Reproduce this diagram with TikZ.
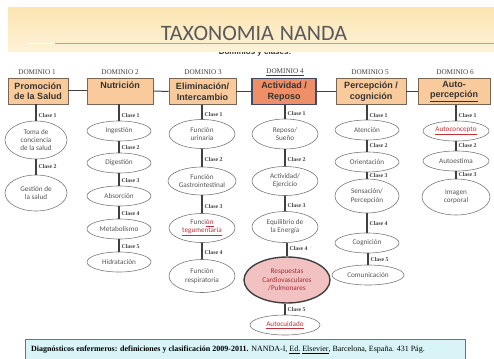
\documentclass[tikz,border=0pt]{standalone}
\usepackage{fontspec}
\setmainfont{Liberation Serif}
\newfontfamily\carl{Carlito}
\newfontfamily\arialf{Liberation Sans}
\usetikzlibrary{shapes.geometric}
\definecolor{bannerT}{HTML}{FBE5B2}
\definecolor{bannerB}{HTML}{FDF2D8}
\definecolor{goldline}{HTML}{C9A46A}
\definecolor{titlecol}{HTML}{5A5A5A}
\definecolor{boxfill}{HTML}{F9CB9C}
\definecolor{boxline}{HTML}{7A6650}
\definecolor{box4fill}{HTML}{EE8F67}
\definecolor{box4line}{HTML}{3E4A66}
\definecolor{ellline}{HTML}{7A7A7A}
\definecolor{elltext}{HTML}{555555}
\definecolor{pinkfill}{HTML}{F2C2C2}
\definecolor{pinktext}{HTML}{A0303A}
\definecolor{citefill}{HTML}{D8F4F6}
\definecolor{citeline}{HTML}{5E7C80}
\definecolor{redul}{HTML}{C0303A}
\tikzset{
  dom/.style={font=\fontsize{7.2}{8}\selectfont, text=black!75},
  dombox/.style={draw=boxline, line width=0.6pt, fill=boxfill, minimum width=61pt, minimum height=26pt, inner sep=1pt, align=center, font=\arialf\bfseries\fontsize{9}{10.5}\selectfont, text=black!80},
  ell/.style={ellipse, draw=ellline, line width=0.6pt, fill=white, inner xsep=-7pt, inner ysep=-4pt, align=center, font=\carl\fontsize{7.2}{8.2}\selectfont, text=elltext},
  conn/.style={draw=black!75, line width=1.3pt},
  hconn/.style={draw=black!75, line width=1pt},
  clase/.style={anchor=west, xshift=1.5pt, inner sep=0.5pt, font=\bfseries\fontsize{5.8}{6}\selectfont, text=black!75},
}
\newcommand{\rul}[1]{\textcolor{redul}{\underline{#1}}}
\begin{document}
\begin{tikzpicture}[x=1pt,y=-1pt]
\useasboundingbox (0,0) rectangle (494,358);
\fill[white] (0,0) rectangle (494,358);
% subtitle (partly hidden by the banner)
\node[font=\arialf\bfseries\fontsize{8}{9}\selectfont, text=black!80] (sub) at (255,52.5) {Dominios y clases:};
% banner
\shade[top color=bannerT, bottom color=bannerB] (8,8) rectangle (494,52);
\draw[goldline, line width=0.6pt] (55,43) -- (494,43);
\draw[white, line width=0.6pt] (28,43) -- (55,43);
\node[font=\carl\fontsize{22}{24}\selectfont, text=titlecol, inner sep=0pt] (title) at (254,33) {TAXONOMIA\hspace{6pt}NANDA};
% domain labels
\node[dom] (d1) at (37,72) {DOMINIO 1};
\node[dom] (d2) at (120,72) {DOMINIO 2};
\node[dom] (d3) at (203,72) {DOMINIO 3};
\node[dom] (d4) at (285,72) {\underline{DOMINIO 4}};
\node[dom] (d5) at (370,72) {DOMINIO 5};
\node[dom] (d6) at (455,72) {DOMINIO 6};
% domain boxes
\node[dombox, minimum width=60pt] (b1) at (38,91) {Promoción\\de la Salud};
\node[dombox, minimum width=66pt, text depth=12pt] (b2) at (120,91) {Nutrición};
\node[dombox, minimum width=67pt] (b3) at (202.5,91.5) {Eliminación/\\Intercambio};
\node[dombox, minimum width=64pt, fill=box4fill, draw=box4line, line width=1.4pt] (b4) at (284,91.5) {Actividad /\\Reposo};
\node[dombox, minimum width=70pt] (b5) at (371,91.5) {Percepción /\\cognición};
\node[dombox, minimum width=72pt] (b6) at (454,91.5) {Auto-\\\underline{percepción}};
\draw[hconn] (b1) -- (b2);
\draw[hconn] (b2) -- (b3);
\draw[hconn] (b3) -- (b4);
\draw[hconn] (b4) -- (b5);
\draw[hconn] (b5) -- (b6);
% column 1
\node[ell, minimum width=62pt, minimum height=38pt] (e11) at (36,140) {Toma de\\conciencia\\de la salud};
\node[ell, minimum width=62pt, minimum height=36pt] (e12) at (36,193) {Gestión de\\la salud};
% column 2
\node[ell, minimum width=64pt, minimum height=20pt] (e21) at (119,131) {Ingestión};
\node[ell, minimum width=64pt, minimum height=20pt] (e22) at (119,163) {Digestión};
\node[ell, minimum width=64pt, minimum height=20pt] (e23) at (119,196) {Absorción};
\node[ell, minimum width=64pt, minimum height=20pt] (e24) at (119,229) {Metabolismo};
\node[ell, minimum width=64pt, minimum height=20pt] (e25) at (119,262) {Hidratación};
% column 3
\node[ell, minimum width=66pt, minimum height=29pt] (e31) at (202,134) {Función\\urinaria};
\node[ell, minimum width=68pt, minimum height=28pt] (e32) at (202,181) {Función\\Gastrointestinal};
\node[ell, minimum width=66pt, minimum height=29pt] (e33) at (202,228) {Funci\rul{ón}\\\rul{tegumentaria}};
\node[ell, minimum width=66pt, minimum height=33pt] (e34) at (202,276) {Función\\respiratoria};
% column 4
\node[ell, minimum width=66pt, minimum height=30pt] (e41) at (285,134) {Reposo/\\Sueño};
\node[ell, minimum width=66pt, minimum height=29pt] (e42) at (285,181) {Actividad/\\Ejercicio};
\node[ell, minimum width=66pt, minimum height=31pt] (e43) at (285,227) {Equilibrio de\\la Energía};
\node[ell, minimum width=86pt, minimum height=46pt, fill=pinkfill, draw=black!75, line width=1.4pt, text=pinktext] (e44) at (287,280) {Respuestas\\Cardiovasculares\\/Pulmonares};
\node[ell, minimum width=70pt, minimum height=20pt] (e45) at (285,325) {\rul{Autocuidado}};
% column 5
\node[ell, minimum width=64pt, minimum height=20pt] (e51) at (367,130) {Atención};
\node[ell, minimum width=64pt, minimum height=20pt] (e52) at (367,162) {Orientación};
\node[ell, minimum width=64pt, minimum height=34pt] (e53) at (367,196) {Sensación/\\Percepción};
\node[ell, minimum width=64pt, minimum height=20pt] (e54) at (367,243) {Cognición};
\node[ell, minimum width=72pt, minimum height=20pt] (e55) at (368,275) {Comunicación};
% column 6
\node[ell, minimum width=66pt, minimum height=20pt] (e61) at (456,131) {\rul{Autoconcepto}};
\node[ell, minimum width=66pt, minimum height=20pt] (e62) at (456,161) {Autoestima};
\node[ell, minimum width=68pt, minimum height=36pt] (e63) at (456,197) {Imagen\\corporal};
% connectors with class labels
\draw[conn] (b1.south -| e11) -- (e11.north) node[clase, pos=0.7] {Clase 1};
\draw[conn] (e11) -- (e12) node[clase, pos=0.5] {Clase 2};
\draw[conn] (b2.south -| e21) -- (e21.north) node[clase, pos=0.7] {Clase 1};
\draw[conn] (e21) -- (e22) node[clase, pos=0.55] {Clase 2};
\draw[conn] (e22) -- (e23) node[clase, pos=0.55] {Clase 3};
\draw[conn] (e23) -- (e24) node[clase, pos=0.55] {Clase 4};
\draw[conn] (e24) -- (e25) node[clase, pos=0.55] {Clase 5};
\draw[conn] (b3.south -| e31) -- (e31.north) node[clase, pos=0.65] {Clase 1};
\draw[conn] (e31) -- (e32) node[clase, pos=0.6] {Clase 2};
\draw[conn] (e32) -- (e33) node[clase, pos=0.6] {Clase 3};
\draw[conn] (e33) -- (e34) node[clase, pos=0.6] {Clase 4};
\draw[conn] (b4.south -| e41) -- (e41.north) node[clase, pos=0.65] {Clase 1};
\draw[conn] (e41) -- (e42) node[clase, pos=0.6] {Clase 2};
\draw[conn] (e42) -- (e43) node[clase, pos=0.6] {Clase 3};
\draw[conn] (e43.south -| e44) -- (e44.north) node[clase, pos=0.4] {Clase 4};
\draw[conn] (e44.south -| e45) -- (e45.north) node[clase, pos=0.5] {Clase 5};
\draw[conn] (b5.south -| e51) -- (e51.north) node[clase, pos=0.7] {Clase 1};
\draw[conn] (e51) -- (e52) node[clase, pos=0.5] {Clase 2};
\draw[conn] (e52) -- (e53) node[clase, pos=0.5] {Clase 3};
\draw[conn] (e53) -- (e54) node[clase, pos=0.55] {Clase 4};
\draw[conn] (e54.south -| e55) -- (e55.north) node[clase, pos=0.55] {Clase 5};
\draw[conn] (b6.south -| e61) -- (e61.north) node[clase, pos=0.7] {Clase 1};
\draw[conn] (e61) -- (e62) node[clase, pos=0.5] {Clase 2};
\draw[conn] (e62) -- (e63) node[clase, pos=0.5] {Clase 3};
% citation
\begin{scope}
\clip (0,0) rectangle (494,358);
\draw[citeline, fill=citefill, line width=0.8pt] (25,339) rectangle (465,364);
\end{scope}
\node[anchor=west, inner sep=0pt, font=\fontsize{8}{9}\selectfont] (cite) at (31,350) {\textbf{Diagnósticos enfermeros: definiciones y clasificación 2009-2011.} NANDA-I, \underline{Ed.} \underline{Elsevier}, Barcelona, España. 431 Pág.};
\end{tikzpicture}
\end{document}
